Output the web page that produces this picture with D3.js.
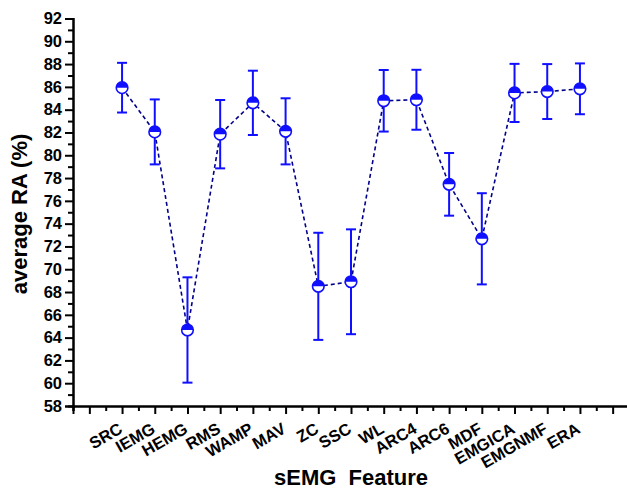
<!DOCTYPE html>
<html><head><meta charset="utf-8">
<script src="https://cdn.jsdelivr.net/npm/d3@7"></script>
<style>
html,body{margin:0;padding:0;background:#fff;overflow:hidden}
svg{display:block;font-family:"Liberation Sans",Arial,sans-serif}
</style></head>
<body><div id="chart"></div>
<script>
const categories=['SRC','IEMG','HEMG','RMS','WAMP','MAV','ZC','SSC','WL','ARC4','ARC6','MDF','EMGICA','EMGNMF','ERA'];
const meanRA=[85.93,82.05,64.67,81.85,84.6,82.1,68.5,68.9,84.78,84.87,77.45,72.67,85.47,85.59,85.83];
const errRA=[2.18,2.85,4.62,3.0,2.82,2.9,4.7,4.6,2.7,2.63,2.75,4.0,2.55,2.41,2.23];
const yMajor=d3.range(58,93,2);
const yMinor=d3.range(59,92,2);
const xMajor=d3.range(0,17,1);
const xMinor=d3.range(-0.5,17,1);

const W=627,H=490;
const svg=d3.select('#chart').append('svg').attr('width',W).attr('height',H);
const x=d3.scaleLinear().domain([-0.5,16.5]).range([73,629]);
const y=d3.scaleLinear().domain([58,92]).range([406,18.5]);
const blue='#1010ff',navy='#00008b';

// axes
const gx=svg.append('g').attr('transform',`translate(0,${y(58)})`);
gx.call(d3.axisBottom(x).tickValues(xMinor).tickSize(5).tickFormat(''));
gx.append('g').call(d3.axisBottom(x).tickValues(xMajor).tickSize(8).tickFormat(i=>categories[i-1]||''));
gx.selectAll('path.domain').attr('stroke','#000').attr('stroke-width',2);
gx.selectAll('.tick line').attr('stroke','#000').attr('stroke-width',2);
gx.selectAll('.tick text').attr('x',0).attr('y',0).attr('dy',0).attr('text-anchor','end')
  .attr('transform','translate(1,26) rotate(-30)')
  .attr('font-size',16.5).attr('font-weight','bold').attr('fill','#000').attr('font-family','"Liberation Sans",Arial,sans-serif');

const gy=svg.append('g').attr('transform',`translate(${x(-0.5)},0)`);
gy.call(d3.axisLeft(y).tickValues(yMinor).tickSize(5).tickFormat(''));
gy.append('g').call(d3.axisLeft(y).tickValues(yMajor).tickSize(8).tickPadding(3));
gy.selectAll('path.domain').attr('stroke','#000').attr('stroke-width',2);
gy.selectAll('.tick line').attr('stroke','#000').attr('stroke-width',2);
gy.selectAll('.tick text').attr('font-size',16.5).attr('font-weight','bold').attr('fill','#000').attr('font-family','"Liberation Sans",Arial,sans-serif');

// titles
svg.append('text').attr('x',351).attr('y',485).attr('text-anchor','middle')
  .attr('font-size',22).attr('font-weight','bold').style('white-space','pre').text('sEMG  Feature');
svg.append('text').attr('transform','translate(27,214) rotate(-90)').attr('text-anchor','middle')
  .attr('font-size',22).attr('font-weight','bold').text('average RA (%)');

const pts=categories.map((c,i)=>({c,i:i+1,m:meanRA[i],e:errRA[i]}));

// dashed connecting line
svg.append('path').datum(pts).attr('fill','none').attr('stroke',navy).attr('stroke-width',1.6)
  .attr('stroke-dasharray','4,3').attr('d',d3.line().x(d=>x(d.i)).y(d=>y(d.m)));

// error bars
const eb=svg.append('g').attr('stroke',blue).attr('stroke-width',2);
pts.forEach(d=>{
  const cx=x(d.i);
  eb.append('line').attr('x1',cx).attr('x2',cx).attr('y1',y(d.m+d.e)).attr('y2',y(d.m-d.e));
  eb.append('line').attr('x1',cx-5).attr('x2',cx+5).attr('y1',y(d.m+d.e)).attr('y2',y(d.m+d.e));
  eb.append('line').attr('x1',cx-5).attr('x2',cx+5).attr('y1',y(d.m-d.e)).attr('y2',y(d.m-d.e));
});

// half-filled markers
const r=5.8;
const mk=svg.append('g').selectAll('g').data(pts).join('g').attr('transform',d=>`translate(${x(d.i)},${y(d.m)})`);
mk.append('circle').attr('r',r).attr('fill','#fff');
mk.append('path').attr('d',`M${-r},0A${r},${r} 0 0 1 ${r},0Z`).attr('fill',blue);
mk.append('circle').attr('r',r).attr('fill','none').attr('stroke',blue).attr('stroke-width',1.6);
</script>
</body></html>
